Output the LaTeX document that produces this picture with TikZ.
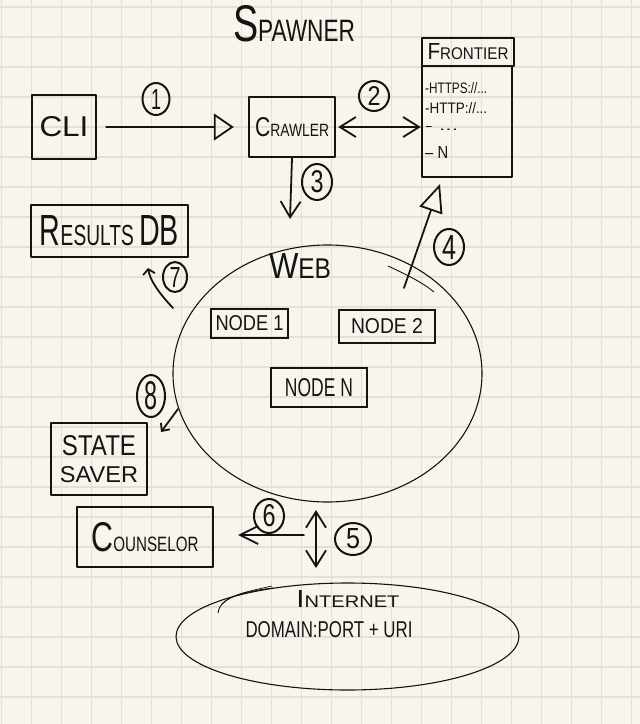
\documentclass[tikz,border=0pt]{standalone}
\usepackage{fontspec}
\setmainfont{Liberation Sans}
\usepackage{graphicx}
\usetikzlibrary{arrows.meta,shapes.geometric,calc}
\definecolor{paper}{HTML}{F8F6EC}
\definecolor{gridc}{HTML}{E3E1D5}
\definecolor{ink}{HTML}{141414}
\newcommand{\fs}[1]{\fontsize{#1}{#1}\selectfont}
\newcommand{\fit}[3]{\resizebox{#1pt}{#2pt}{#3}}
\begin{document}
\begin{tikzpicture}[x=1pt,y=-1pt,
  box/.style={draw=ink, line width=2.4pt, inner sep=0pt, line join=round, text=ink},
  nbox/.style={draw=ink, line width=1.9pt, inner sep=0pt, text=ink},
  lab/.style={draw=ink, line width=2pt, ellipse, inner sep=0pt, text=ink},
  txt/.style={inner sep=0pt, text=ink},
  conn/.style={draw=ink, line width=1.8pt, line cap=round, line join=round},
  thin/.style={draw=ink, line width=1.1pt},
  trihead/.style={-{Triangle[open,length=20pt,width=27pt,line width=1.8pt]}},
  barb/.style={-{Straight Barb[length=16pt,width=20pt,line width=1.8pt]}},
  dbarb/.style={{Straight Barb[length=16pt,width=20pt,line width=1.8pt]}-{Straight Barb[length=16pt,width=20pt,line width=1.8pt]}}
]
\useasboundingbox (0,0) rectangle (640,724);
\fill[paper] (0,0) rectangle (640,724);
\foreach \i in {0,...,21} \draw[gridc, line width=1.3pt] ({1.8+30*\i},0) -- ({1.8+30*\i},724);
\foreach \j in {0,...,24} \draw[gridc, line width=1.3pt] (0,{7+30*\j}) -- (640,{7+30*\j});

% title
\node[txt] (title) at (294,24) {\fit{122}{36}{\fs{40}S\fs{24}PAWNER}};

% boxes
\node[box, minimum width=64pt, minimum height=64pt] (cli) at (64,127) {\fit{49}{20}{\fs{24}CLI}};
\node[box, minimum width=86pt, minimum height=60pt] (crawler) at (292,127) {\fit{74}{19}{\fs{26}C\fs{17}RAWLER}};
\node[box, minimum width=92pt, minimum height=28pt] (fhead) at (468,52) {\fit{81}{16}{\fs{22}F\fs{16}RONTIER}};
\node[box, minimum width=90pt, minimum height=111pt] (flist) at (467,121.5) {};
\node[txt, anchor=west] (f1) at (425,88) {\fit{62}{11}{\fs{14}-HTTPS://...}};
\node[txt, anchor=west] (f2) at (425,108) {\fit{62}{11}{\fs{14}-HTTP://...}};
\node[txt, anchor=west] (f3) at (425,128) {\fit{33}{4}{\fs{14}- ...}};
\node[txt, anchor=west] (f4) at (425,152) {\fit{23}{12}{\fs{14}– N}};

\node[box, minimum width=157pt, minimum height=52pt] (results) at (109.5,231) {\fit{139}{30}{\fs{30}R\fs{20}ESULTS \fs{30}DB}};
\node[box, minimum width=96pt, minimum height=72pt, align=center] (state) at (99,459) {\fit{74}{20}{\fs{20}STATE}\\[10pt]\fit{78}{16}{\fs{20}SAVER}};
\node[box, minimum width=136pt, minimum height=60pt] (counselor) at (145,537) {\fit{107}{29}{\fs{32}C\fs{16}OUNSELOR}};

% web
\node[thin, ellipse, minimum width=309pt, minimum height=257pt] (web) at (327.5,373.5) {};
\draw[ink, line width=0.9pt] (388,266) .. controls (405,274) and (422,282) .. (434,292);
\node[txt] (webt) at (300,266) {\fit{62}{25}{\fs{28}W\fs{22}EB}};
\node[nbox, minimum width=77pt, minimum height=29pt] (n1) at (249.5,323.5) {\fit{68}{15}{\fs{16}NODE 1}};
\node[nbox, minimum width=96pt, minimum height=33pt] (n2) at (387,326.5) {\fit{72}{15}{\fs{16}NODE 2}};
\node[nbox, minimum width=96pt, minimum height=39pt] (nn) at (319,387.5) {\fit{68}{18}{\fs{18}NODE N}};

% internet
\node[thin, ellipse, minimum width=343pt, minimum height=107pt] (inet) at (347.5,636.5) {};
\draw[ink, line width=0.9pt] (218,613) .. controls (220,598) and (240,592) .. (273,588);
\draw[ink, line width=0.7pt] (222,604) .. controls (232,594) and (250,591) .. (272,586);
\node[txt] (inett) at (348,599) {\fit{103}{17}{\fs{22}I\fs{15}NTERNET}};
\node[txt] (domain) at (329,630) {\fit{167}{16}{\fs{18}DOMAIN:PORT + URI}};

% step labels
\node[lab, minimum width=27pt, minimum height=32pt] (l1) at (156,99) {\fit{10}{20}{1}};
\node[lab, minimum width=30pt, minimum height=30pt] (l2) at (374,96) {\fit{13}{19}{2}};
\node[lab, minimum width=30pt, minimum height=36pt] (l3) at (317,182) {\fit{13}{22}{3}};
\node[lab, minimum width=30pt, minimum height=36pt] (l4) at (449,247) {\fit{14}{24}{4}};
\node[lab, minimum width=36pt, minimum height=32pt] (l5) at (353,539) {\fit{14}{20}{5}};
\node[lab, minimum width=30pt, minimum height=34pt] (l6) at (269,516) {\fit{13}{22}{6}};
\node[lab, minimum width=24pt, minimum height=30pt] (l7) at (175,277) {\fit{11}{20}{7}};
\node[lab, minimum width=28pt, minimum height=42pt] (l8) at (151,396) {\fit{13}{28}{8}};

% connector end points
\coordinate (a3e) at (290,219);
\coordinate (a4s) at (404,288);
\coordinate (a4e) at (440,184);
\coordinate (a5s) at (316,510);
\coordinate (a5e) at (316,568);
\coordinate (a6s) at (304,535);
\coordinate (a7s) at (173,308);
\coordinate (a7e) at (148,268);
\coordinate (a8s) at (178,409);
\coordinate (a8e) at (161,432);

% connectors
\draw[conn, trihead, shorten <=9pt, shorten >=14pt] (cli.east) -- (crawler.west);
\draw[conn, dbarb, shorten <=2pt] (crawler.east) -- (crawler.east -| flist.west);
\draw[conn, barb] (crawler.south) -- (a3e);
\draw[conn, -{Triangle[open,length=28pt,width=24pt,line width=1.8pt]}] (a4s) -- (a4e);
\draw[conn, dbarb] (a5s) -- (a5e);
\draw[conn, -{Straight Barb[length=18pt,width=18pt,line width=1.8pt]}, shorten >=24pt] (a6s) -- (a6s -| counselor.east);
\draw[conn, -{Straight Barb[length=5pt,width=12pt,line width=1.8pt]}] (a7s) .. controls (158,292) and (150,280) .. (a7e);
\draw[conn, -{Straight Barb[length=6pt,width=11pt,line width=1.8pt]}] (a8s) -- (a8e);
\end{tikzpicture}
\end{document}
